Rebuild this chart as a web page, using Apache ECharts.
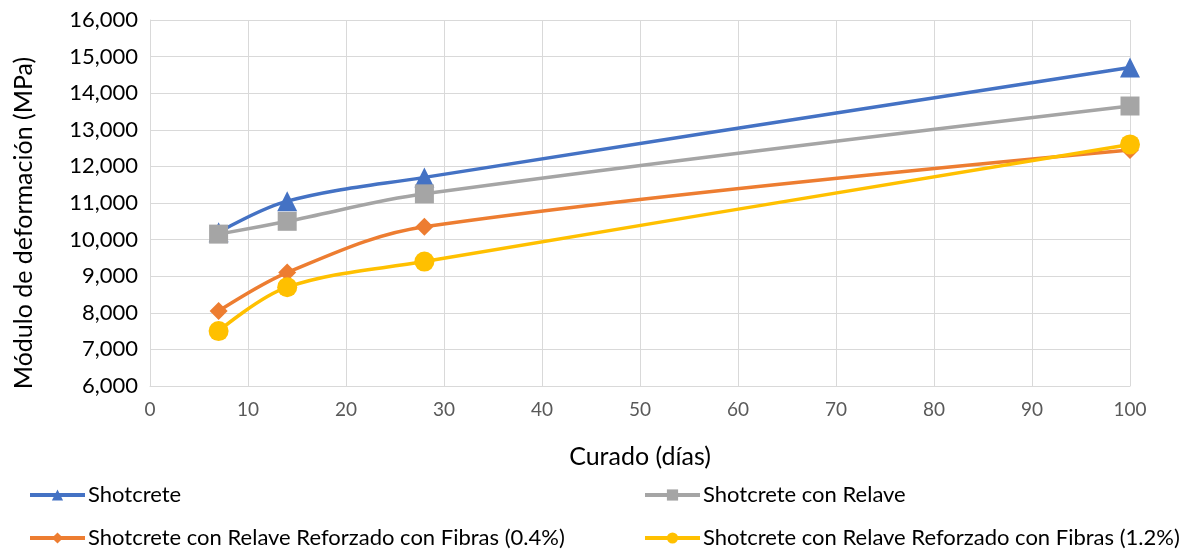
<!DOCTYPE html>
<html><head><meta charset="utf-8">
<script src="https://cdn.jsdelivr.net/npm/echarts@6/dist/echarts.min.js"></script>
<style>html,body{margin:0;padding:0;background:#fff}#c{width:1188px;height:550px}</style>
</head><body><div id="c"></div>
<script>
const days = [7, 14, 28, 100];
const shotcrete = [10200, 11050, 11700, 14700];
const conRelave = [10150, 10500, 11250, 13650];
const fibras04 = [8050, 9100, 10350, 12450];
const fibras12 = [7500, 8700, 9400, 12600];
const names = ['Shotcrete', 'Shotcrete con Relave', 'Shotcrete con Relave Reforzado con Fibras (0.4%)', 'Shotcrete con Relave Reforzado con Fibras (1.2%)'];
const colors = ['#4472C4', '#A5A5A5', '#ED7D31', '#FFC000'];
const symbols = ['triangle', 'rect', 'diamond', 'circle'];
const sizes = [20, 19, 18, 20];
const values = [shotcrete, conRelave, fibras04, fibras12];

const font = 'Lato, "Open Sans", sans-serif';
const chart = echarts.init(document.getElementById('c'));
const legendPos = [[28, 484], [643, 484], [28, 527], [643, 527]];
chart.setOption({
  animation: false,
  textStyle: {fontFamily: font},
  grid: {left: 150, right: 58, top: 20, bottom: 164},
  xAxis: {
    type: 'value', min: 0, max: 100, interval: 10,
    name: 'Curado (días)', nameLocation: 'middle', nameGap: 58,
    nameTextStyle: {fontSize: 25, color: '#000', fontFamily: font},
    axisLabel: {fontSize: 19, color: '#595959', margin: 14},
    axisLine: {lineStyle: {color: '#d9d9d9'}},
    axisTick: {show: false},
    splitLine: {lineStyle: {color: '#d9d9d9', width: 1}}
  },
  yAxis: {
    type: 'value', min: 6000, max: 16000, interval: 1000,
    name: 'Módulo de deformación (MPa)', nameLocation: 'middle', nameGap: 114,
    nameTextStyle: {fontSize: 25, color: '#000', fontFamily: font, padding: [0, 40, 0, 0]},
    axisLabel: {fontSize: 22, color: '#000', margin: 12,
      formatter: v => v.toLocaleString('en-US')},
    axisLine: {show: true, lineStyle: {color: '#d9d9d9'}},
    axisTick: {show: false},
    splitLine: {lineStyle: {color: '#d9d9d9', width: 1}}
  },
  legend: names.map((n, i) => ({
    data: [n], left: legendPos[i][0], top: legendPos[i][1],
    itemWidth: 55, itemHeight: 14, itemGap: 5, padding: 0,
    lineStyle: {width: 4},
    textStyle: {fontSize: 22, color: '#000', fontFamily: font, padding: [0, 0, 0, -2]}
  })),
  series: names.map((n, i) => ({
    name: n, type: 'line', smooth: 0.35,
    data: days.map((d, j) => [d, values[i][j]]),
    symbol: symbols[i], symbolSize: sizes[i], showSymbol: true,
    itemStyle: {color: colors[i]},
    lineStyle: {color: colors[i], width: 3.5},
    z: 2 + i
  }))
});
</script></body></html>
